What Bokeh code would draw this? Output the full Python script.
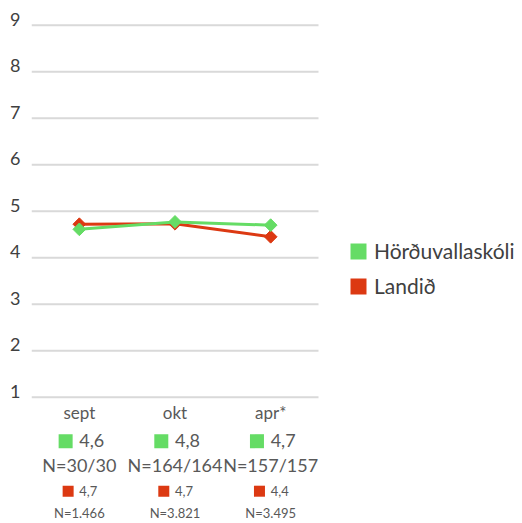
import numpy as np
from bokeh.plotting import figure
from bokeh.models import ColumnDataSource, Range1d, FixedTicker, Legend, LegendItem
from bokeh.core.properties import value
from bokeh.embed import file_html
from bokeh.resources import INLINE

# ---- data ----
categories = ["sept", "okt", "apr*"]
school_name = "Hörðuvallaskóli"
country_name = "Landið"
school_values = [4.61, 4.77, 4.70]
country_values = [4.72, 4.73, 4.45]
school_labels = ["4,6", "4,8", "4,7"]
school_n = ["N=30/30", "N=164/164", "N=157/157"]
country_labels = ["4,7", "4,7", "4,4"]
country_n = ["N=1.466", "N=3.821", "N=3.495"]
y_ticks = [1, 2, 3, 4, 5, 6, 7, 8, 9]

# ---- style / layout ----
GREEN = "#65dc65"
RED = "#dc3912"
GRID = "#d9d9d9"
TXT = "#595959"
FONT = "Lato"
W, H = 522, 523
LEFT = 31
FRAME_W = W - LEFT
PLOT_W = 287                      # width of the category area
PX_X = PLOT_W / len(categories)
PX_Y = 46.5
TOP_PAD = 24.7
y_top = y_ticks[-1] + TOP_PAD / PX_Y
y_bottom = y_top - H / PX_Y
x_end = FRAME_W / PX_X
LABEL_SHIFT = 0.13

p = figure(width=W, height=H, output_backend="svg", toolbar_location=None,
           x_range=Range1d(0, x_end), y_range=Range1d(y_bottom, y_top),
           x_axis_location=None,
           min_border_left=LEFT, min_border_right=0,
           min_border_top=0, min_border_bottom=0)
p.outline_line_color = None
p.background_fill_color = "white"
p.border_fill_color = "white"
p.xgrid.visible = False
p.ygrid.visible = False

ax = p.yaxis[0]
shifted = [t + LABEL_SHIFT for t in y_ticks]
ax.ticker = FixedTicker(ticks=shifted)
ax.major_label_overrides = {s: str(t) for s, t in zip(shifted, y_ticks)}
ax.axis_line_color = None
ax.major_tick_line_color = None
ax.minor_tick_line_color = None
ax.major_label_standoff = 5
ax.major_label_text_font = FONT
ax.major_label_text_font_size = "18px"
ax.major_label_text_color = "#404040"

# horizontal grid lines over the category area only
p.segment(x0=0, x1=len(categories), y0=y_ticks, y1=y_ticks,
          line_color=GRID, line_width=2)

xs = [i + 0.5 for i in range(len(categories))]
src = ColumnDataSource(dict(x=xs, school=school_values, country=country_values))

p.line("x", "country", source=src, line_color=RED, line_width=3)
p.scatter("x", "country", source=src, marker="square", angle=np.pi / 4,
          size=9, fill_color=RED, line_color=RED)
p.line("x", "school", source=src, line_color=GREEN, line_width=3)
p.scatter("x", "school", source=src, marker="square", angle=np.pi / 4,
          size=9, fill_color=GREEN, line_color=GREEN)

# ---- table under the chart ----
base = y_ticks[0]
def dy(px):
    return base - px / PX_Y

tsrc = ColumnDataSource(dict(
    x=xs, cat=categories, sl=school_labels, sn=school_n,
    cl=country_labels, cn=country_n,
    sq_g=[x - 13.7 / PX_X for x in xs], sq_r=[x - 11.2 / PX_X for x in xs],
))

p.text(x="x", y=dy(15.5), text="cat", source=tsrc, text_align="center",
       text_baseline="middle", text_font=value(FONT), text_font_size="17px",
       text_color=TXT)
p.scatter(x="sq_g", y=dy(44), source=tsrc, marker="square", size=14,
          fill_color=GREEN, line_color=None)
p.text(x="x", y=dy(43), text="sl", source=tsrc, text_align="left",
       text_baseline="middle", text_font=value(FONT), text_font_size="18px",
       text_color=TXT)
p.text(x="x", y=dy(68), text="sn", source=tsrc, text_align="center",
       text_baseline="middle", text_font=value(FONT), text_font_size="18px",
       text_color=TXT)
p.scatter(x="sq_r", y=dy(94), source=tsrc, marker="square", size=11,
          fill_color=RED, line_color=None)
p.text(x="x", y=dy(93.5), text="cl", source=tsrc, text_align="left",
       text_baseline="middle", text_font=value(FONT), text_font_size="13px",
       text_color=TXT)
p.text(x="x", y=dy(115.5), text="cn", source=tsrc, text_align="center",
       text_baseline="middle", text_font=value(FONT), text_font_size="13px",
       text_color=TXT)

# ---- legend ----
nan = [np.nan]
lg = p.quad(left=nan, right=nan, top=nan, bottom=nan, fill_color=GREEN, line_color=None)
lr = p.quad(left=nan, right=nan, top=nan, bottom=nan, fill_color=RED, line_color=None)
legend = Legend(items=[LegendItem(label=school_name, renderers=[lg]),
                       LegendItem(label=country_name, renderers=[lr])],
                location=(317, 225), orientation="vertical",
                glyph_width=20, glyph_height=20, label_height=20,
                label_standoff=6, spacing=10,
                padding=0, margin=0, border_line_color=None,
                background_fill_alpha=0, label_text_font=FONT,
                label_text_font_size="21px", label_text_color="#404040")
p.add_layout(legend, "center")

open("out.html", "w").write(file_html(p, INLINE))
